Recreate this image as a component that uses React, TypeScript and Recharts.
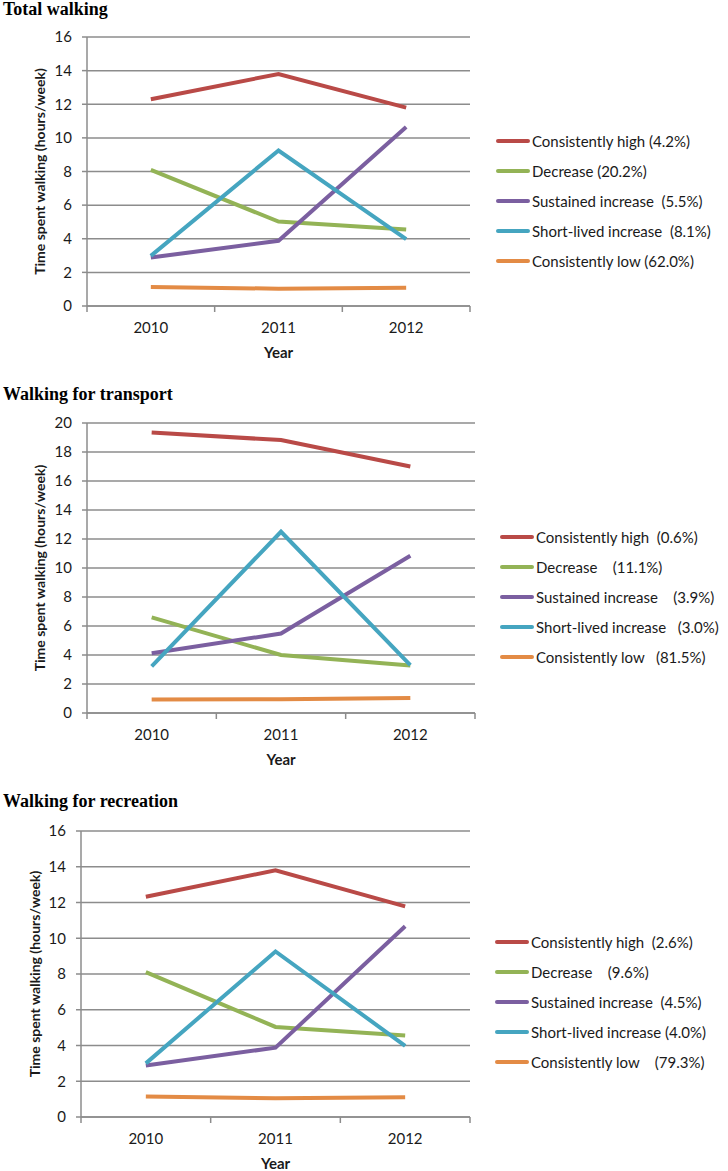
import { LineChart, Line, XAxis, YAxis, CartesianGrid } from 'recharts';

const years = ['2010', '2011', '2012'];
const seriesKeys = ['high', 'decrease', 'sustained', 'shortLived', 'low'];
const seriesColors = ['#B94A47', '#93B356', '#7B5FA0', '#45A5C0', '#E38B45'];

// Total walking
const totalHigh = [12.3, 13.8, 11.8];
const totalDecrease = [8.1, 5.02, 4.55];
const totalSustained = [2.88, 3.88, 10.65];
const totalShortLived = [2.98, 9.25, 3.98];
const totalLow = [1.13, 1.03, 1.08];
const totalLegend = [
  'Consistently high (4.2%)',
  'Decrease (20.2%)',
  'Sustained increase  (5.5%)',
  'Short-lived increase  (8.1%)',
  'Consistently low (62.0%)',
];
const totalTicks = [0, 2, 4, 6, 8, 10, 12, 14, 16];

// Walking for transport
const transportHigh = [19.35, 18.82, 17.0];
const transportDecrease = [6.6, 4.0, 3.28];
const transportSustained = [4.12, 5.48, 10.85];
const transportShortLived = [3.22, 12.5, 3.3];
const transportLow = [0.93, 0.95, 1.03];
const transportLegend = [
  'Consistently high  (0.6%)',
  'Decrease    (11.1%)',
  'Sustained increase    (3.9%)',
  'Short-lived increase   (3.0%)',
  'Consistently low   (81.5%)',
];
const transportTicks = [0, 2, 4, 6, 8, 10, 12, 14, 16, 18, 20];

// Walking for recreation
const recreationHigh = [12.32, 13.8, 11.78];
const recreationDecrease = [8.1, 5.04, 4.56];
const recreationSustained = [2.88, 3.88, 10.67];
const recreationShortLived = [3.0, 9.26, 3.98];
const recreationLow = [1.15, 1.05, 1.1];
const recreationLegend = [
  'Consistently high  (2.6%)',
  'Decrease    (9.6%)',
  'Sustained increase  (4.5%)',
  'Short-lived increase (4.0%)',
  'Consistently low    (79.3%)',
];
const recreationTicks = [0, 2, 4, 6, 8, 10, 12, 14, 16];

const gray = '#8c8c8c';
const ink = '#1a1a1a';

type PanelProps = {
  title: string;
  titleTop: number;
  top: number;
  height: number;
  margin: { top: number; right: number; bottom: number; left: number };
  yWidth: number;
  yLabelX: number;
  ticks: number[];
  series: number[][];
  legend: string[];
  legendLeft: number;
  legendTop: number;
};

// year label plus the Excel-style tick marks that sit between categories
function makeYearTick(band: number) {
  return function YearTick(props: any) {
    const { x, y, payload, index } = props;
    const axisY = y - 16;
    return (
      <g>
        <line x1={x - band / 2} x2={x - band / 2} y1={axisY} y2={axisY + 6} stroke={gray} strokeWidth={1.5} />
        {index === years.length - 1 && (
          <line x1={x + band / 2} x2={x + band / 2} y1={axisY} y2={axisY + 6} stroke={gray} strokeWidth={1.5} />
        )}
        <text x={x} y={y} dy="0.71em" textAnchor="middle" fill={ink} fontSize={15}>
          {payload.value}
        </text>
      </g>
    );
  };
}

function Panel(p: PanelProps) {
  const rows = years.map((year, i) => {
    const row: Record<string, string | number> = { year };
    seriesKeys.forEach((k, s) => {
      row[k] = p.series[s][i];
    });
    return row;
  });
  const max = p.ticks[p.ticks.length - 1];
  const band = (728 - p.margin.left - p.margin.right - p.yWidth) / years.length;

  return (
    <>
      <div
        style={{
          position: 'absolute',
          left: 3,
          top: p.titleTop,
          fontFamily: '"Liberation Serif", serif',
          fontWeight: 'bold',
          fontSize: 18,
          lineHeight: '18px',
          color: '#000',
          whiteSpace: 'nowrap',
        }}
      >
        {p.title}
      </div>
      <div style={{ position: 'absolute', left: 0, top: p.top }}>
        <LineChart width={728} height={p.height} data={rows} margin={p.margin}>
          <CartesianGrid vertical={false} stroke={gray} strokeWidth={1.5} />
          <XAxis
            dataKey="year"
            scale="band"
            tickLine={false}
            axisLine={{ stroke: gray, strokeWidth: 1.5 }}
            tickSize={6}
            tickMargin={10}
            height={30}
            interval={0}
            tick={makeYearTick(band)}
            label={{
              value: 'Year',
              position: 'bottom',
              offset: 11,
              style: { fill: ink, fontSize: 15, fontWeight: 'bold' },
            }}
          />
          <YAxis
            domain={[0, max]}
            ticks={p.ticks}
            interval={0}
            width={p.yWidth}
            tickSize={5}
            tickMargin={10}
            stroke={gray}
            strokeWidth={1.5}
            tick={{ fill: ink, fontSize: 15 }}
            label={{
              value: 'Time spent walking (hours/week)',
              angle: -90,
              position: 'insideLeft',
              offset: p.yLabelX,
              style: { textAnchor: 'middle', fill: ink, fontSize: 14, fontWeight: 'bold' },
            }}
          />
          {seriesKeys.map((k, s) => (
            <Line
              key={k}
              type="linear"
              dataKey={k}
              stroke={seriesColors[s]}
              strokeWidth={4}
              dot={false}
              activeDot={false}
              isAnimationActive={false}
            />
          ))}
        </LineChart>
      </div>
      <div style={{ position: 'absolute', left: p.legendLeft, top: p.legendTop }}>
        {p.legend.map((label, s) => (
          <div key={label} style={{ display: 'flex', alignItems: 'center', height: 30 }}>
            <span
              style={{ display: 'inline-block', width: 34, height: 4, borderRadius: 2, background: seriesColors[s] }}
            />
            <span style={{ marginLeft: 2, fontSize: 15, color: ink, whiteSpace: 'pre' }}>{label}</span>
          </div>
        ))}
      </div>
    </>
  );
}

export default function App() {
  return (
    <div
      style={{
        position: 'absolute',
        left: 0,
        top: 0,
        width: 728,
        height: 1171,
        background: '#fff',
        fontFamily: 'Lato, "Noto Sans", sans-serif',
        overflow: 'hidden',
      }}
    >
      <Panel
        title="Total walking"
        titleTop={0}
        top={0}
        height={380}
        margin={{ top: 37, right: 258, bottom: 44, left: 0 }}
        yWidth={87}
        yLabelX={40}
        ticks={totalTicks}
        series={[totalHigh, totalDecrease, totalSustained, totalShortLived, totalLow]}
        legend={totalLegend}
        legendLeft={496}
        legendTop={126}
      />
      <Panel
        title="Walking for transport"
        titleTop={385}
        top={390}
        height={380}
        margin={{ top: 33, right: 253, bottom: 27, left: 0 }}
        yWidth={87}
        yLabelX={40}
        ticks={transportTicks}
        series={[transportHigh, transportDecrease, transportSustained, transportShortLived, transportLow]}
        legend={transportLegend}
        legendLeft={500}
        legendTop={522}
      />
      <Panel
        title="Walking for recreation"
        titleTop={792}
        top={780}
        height={391}
        margin={{ top: 51, right: 258, bottom: 24, left: 0 }}
        yWidth={81}
        yLabelX={35}
        ticks={recreationTicks}
        series={[recreationHigh, recreationDecrease, recreationSustained, recreationShortLived, recreationLow]}
        legend={recreationLegend}
        legendLeft={495}
        legendTop={927}
      />
    </div>
  );
}
